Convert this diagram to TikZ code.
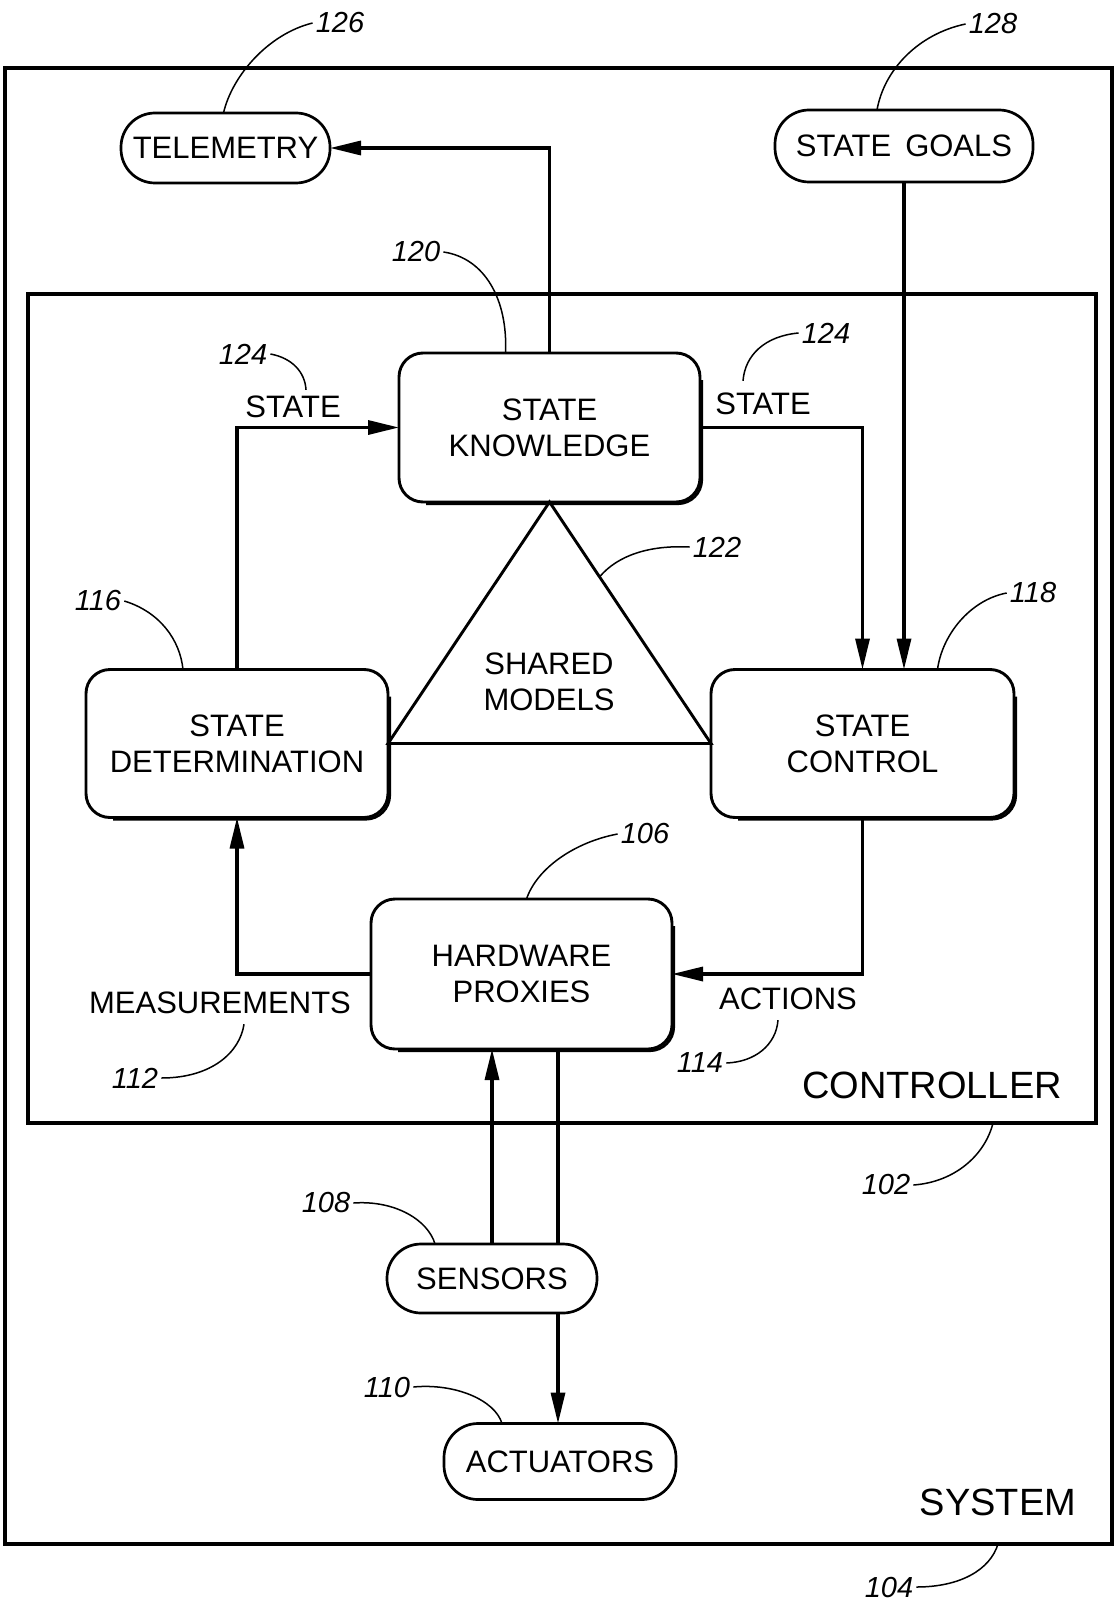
\documentclass[tikz,border=0pt]{standalone}
\usepackage{fontspec}
\setmainfont{Liberation Sans}
\usetikzlibrary{arrows.meta,calc}

% heavier edge along the right and bottom of a rounded block
\newcommand{\boxedge}[1]{%
  \draw[line width=2.6pt, rounded corners=24pt]
    ($(#1.north east)+(1.8,27)$) -- ($(#1.south east)+(1.8,1.8)$) -- ($(#1.south west)+(27,1.8)$);}

\begin{document}
\begin{tikzpicture}[x=1pt,y=-1pt,
  txt/.style={font=\fontsize{31}{36}\selectfont, align=center, inner sep=0pt},
  big/.style={font=\fontsize{38}{44}\selectfont, inner sep=0pt},
  refnum/.style={font=\fontsize{29}{32}\selectfont\itshape, inner sep=3pt},
  block/.style={draw, line width=2.9pt, rounded corners=24pt, inner sep=0pt, outer sep=0pt,
    font=\fontsize{31}{36}\selectfont, align=center},
  pill/.style={draw, line width=2.7pt, rounded corners=34pt, inner sep=0pt, outer sep=0pt,
    font=\fontsize{31}{36}\selectfont},
  frame/.style={draw, line width=3.5pt, inner sep=0pt, outer sep=0pt},
  link/.style={line width=3.3pt, -{Triangle[length=31pt,width=14pt]}},
  plain/.style={line width=3.3pt},
  leader/.style={line width=1.5pt},
]
\useasboundingbox (0,0) rectangle (1115,1605);

% outer frames
\node[frame, minimum width=1107pt, minimum height=1476pt] (system) at (558.5,806) {};
\node[frame, minimum width=1068pt, minimum height=829pt] (controller) at (562,708.5) {};
\node[big] (ctl) at (932,1085) {CONTROLLER};
\node[big] (sys) at (998,1502) {SYSTEM};

% terminals
\node[pill, minimum width=209pt, minimum height=70pt] (tel) at (225.5,148) {TELEMETRY};
\node[pill, minimum width=258pt, minimum height=72pt] (sg) at (904,146) {STATE\hspace{14pt}GOALS};
\node[pill, minimum width=210pt, minimum height=69pt] (sen) at (492,1278.5) {SENSORS};
\node[pill, minimum width=232pt, minimum height=76pt] (act) at (560,1461.5) {ACTUATORS};

% blocks
\node[block, minimum width=301pt, minimum height=149pt] (sk) at (549.5,427.5) {STATE\\KNOWLEDGE};
\node[block, minimum width=302pt, minimum height=148pt] (sd) at (237,743.5) {STATE\\DETERMINATION};
\node[block, minimum width=303pt, minimum height=148pt] (sc) at (862.5,743.5) {STATE\\CONTROL};
\node[block, minimum width=301pt, minimum height=150pt] (hp) at (521.5,974) {HARDWARE\\PROXIES};
\boxedge{sk}
\boxedge{sd}
\boxedge{sc}
\boxedge{hp}

% shared models
\draw[line width=2.9pt, line join=miter] (sk.south) -- (sd.east) -- (sc.west) -- cycle;
\node[txt] (models) at (549,682) {SHARED\\MODELS};

% flow labels
\node[txt] (stL) at (293,407) {STATE};
\node[txt] (stR) at (763,404) {STATE};
\node[txt] (meas) at (220,1003) {MEASUREMENTS};
\node[txt] (acts) at (788,999) {ACTIONS};

% connectors
\draw[link] (sk.north) |- (tel.east);
\draw[link] (sg.south) -- (sg.south |- sc.north);
\draw[link] (sk.east) -| (sc.north);
\draw[link] (sd.north) |- (sk.west);
\draw[link] (hp.west) -| (sd.south);
\draw[link] (sc.south) |- (hp.east);
\draw[link] (sen.north) -- (sen.north |- hp.south);
\coordinate (drive) at (558,0);
\draw[plain] (hp.south -| drive) -- (sen.north -| drive);
\draw[link] (sen.south -| drive) -- (act.north -| drive);

% reference numerals
\node[refnum] (r126) at (340,23) {126};
\node[refnum] (r128) at (993,24) {128};
\node[refnum] (r120) at (416,252) {120};
\node[refnum] (r124a) at (243,354) {124};
\node[refnum] (r124b) at (826,333) {124};
\node[refnum] (r122) at (717,547) {122};
\node[refnum] (r116) at (98,601) {116};
\node[refnum] (r118) at (1033,593) {118};
\node[refnum] (r106) at (645,834) {106};
\node[refnum] (r112) at (135,1078) {112};
\node[refnum] (r114) at (700,1063) {114};
\node[refnum] (r102) at (886,1185) {102};
\node[refnum] (r108) at (326,1203) {108};
\node[refnum] (r110) at (387,1387) {110};
\node[refnum] (r104) at (889,1587) {104};

\draw[leader] (r126.west) .. controls (268,34) and (232,76) .. ($(tel.north)+(-2,0)$);
\draw[leader] (r128.west) .. controls (918,34) and (884,70) .. ($(sg.north)+(-27,0)$);
\draw[leader] (r120.east) .. controls (485,258) and (508,300) .. ($(sk.north)+(-44,0)$);
\draw[leader] (r124a.east) .. controls (292,358) and (305,372) .. ($(stL.north)+(13,-6)$);
\draw[leader] (r124b.west) .. controls (765,336) and (745,355) .. ($(stR.north)+(-20,-12)$);
\draw[leader] (r122.west) .. controls (650,545) and (618,555) .. ($(sk.south)!0.31!(sc.west)$);
\draw[leader] (r116.east) .. controls (160,612) and (180,640) .. ($(sd.north)+(-54,0)$);
\draw[leader] (r118.west) .. controls (970,600) and (942,635) .. ($(sc.north)+(75,0)$);
\draw[leader] (r106.west) .. controls (575,842) and (537,868) .. ($(hp.north)+(5,0)$);
\draw[leader] (r112.east) .. controls (212,1078) and (240,1052) .. ($(meas.south)+(24,10)$);
\draw[leader] (r114.east) .. controls (755,1062) and (776,1045) .. ($(acts.south)+(-10,10)$);
\draw[leader] (r102.east) .. controls (955,1182) and (985,1155) .. ($(controller.south east)+(-103,0)$);
\draw[leader] (r108.east) .. controls (395,1200) and (428,1220) .. ($(sen.north)+(-57,0)$);
\draw[leader] (r110.east) .. controls (455,1383) and (495,1400) .. ($(act.north)+(-58,0)$);
\draw[leader] (r104.east) .. controls (960,1587) and (990,1570) .. ($(system.south east)+(-114,0)$);
\end{tikzpicture}
\end{document}
